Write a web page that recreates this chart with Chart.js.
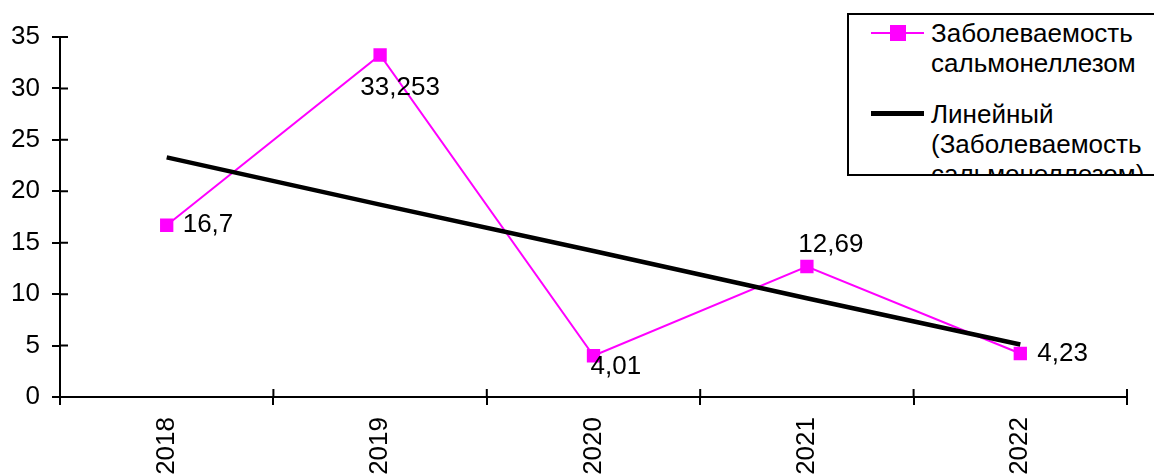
<!DOCTYPE html>
<html>
<head>
<meta charset="utf-8">
<script src="https://cdn.jsdelivr.net/npm/chart.js@4"></script>
<style>
  body { margin: 0; background: #fff; }
  #wrap { position: relative; width: 1154px; height: 475px; overflow: hidden; }
  #legend {
    position: absolute; left: 847px; top: 13px; width: 330px; height: 159px;
    border: 2px solid #000; background: #fff; overflow: hidden;
    font-family: 'Liberation Sans', Arial, sans-serif; font-size: 26px; line-height: 30px; color: #000;
  }
  .item { position: absolute; left: 82px; }
  .sample { position: absolute; left: 22px; width: 53px; }
</style>
</head>
<body>
<div id="wrap">
  <canvas id="c" width="1154" height="475"></canvas>
  <div id="legend">
    <div class="sample" style="top:17px;height:2px;background:#ff00ff"></div>
    <div class="sample" style="top:10px;left:41px;width:16px;height:16px;background:#ff00ff"></div>
    <div class="item" style="top:3px">Заболеваемость<br>сальмонеллезом</div>
    <div class="sample" style="top:96px;height:5px;background:#000"></div>
    <div class="item" style="top:84px">Линейный<br>(Заболеваемость<br>сальмонеллезом)</div>
  </div>
</div>
<script>
const years = ['2018', '2019', '2020', '2021', '2022']
const incidence = [16.7, 33.253, 4.01, 12.69, 4.23]
// trend line
const trend = [23.3, 18.7, 14.2, 9.6, 5.1]
const yTicks = [0, 5, 10, 15, 20, 25, 30, 35]

const font = { family: "'Liberation Sans', Arial, sans-serif", size: 26 }

// where each value label sits relative to its point
const labelPos = [
  { dx: 16, dy: 0, align: 'left' },
  { dx: 20, dy: 33, align: 'center' },
  { dx: -3, dy: 11, align: 'left' },
  { dx: 24, dy: -22, align: 'center' },
  { dx: 17, dy: 0, align: 'left' }
]

const valueLabels = {
  id: 'valueLabels',
  afterDatasetsDraw(chart) {
    const ctx = chart.ctx
    const meta = chart.getDatasetMeta(1)
    ctx.save()
    ctx.font = font.size + 'px ' + font.family
    ctx.fillStyle = '#000'
    ctx.textBaseline = 'middle'
    meta.data.forEach((pt, i) => {
      const p = labelPos[i]
      ctx.textAlign = p.align
      ctx.fillText(String(incidence[i]).replace('.', ','), pt.x + p.dx, pt.y + p.dy)
    })
    ctx.restore()
  }
}

// ticks in the reference cross the axis lines, add the inner half
const innerTicks = {
  id: 'innerTicks',
  afterDraw(chart) {
    const ctx = chart.ctx
    const a = chart.chartArea
    ctx.save()
    ctx.strokeStyle = '#000'
    ctx.lineWidth = 2
    ctx.beginPath()
    yTicks.forEach(v => {
      const y = chart.scales.y.getPixelForValue(v)
      ctx.moveTo(a.left, y); ctx.lineTo(a.left + 8, y)
    })
    for (let i = 0; i <= years.length; i++) {
      const x = a.left + (a.right - a.left) * i / years.length
      ctx.moveTo(x, a.bottom); ctx.lineTo(x, a.bottom - 8)
    }
    ctx.stroke()
    ctx.restore()
  }
}

new Chart(document.getElementById('c'), {
  type: 'line',
  data: {
    labels: years,
    datasets: [{
      label: 'Линейный (Заболеваемость сальмонеллезом)',
      data: trend,
      borderColor: '#000',
      borderWidth: 4.5,
      pointRadius: 0,
      tension: 0
    }, {
      label: 'Заболеваемость сальмонеллезом',
      data: incidence,
      borderColor: '#ff00ff',
      backgroundColor: '#ff00ff',
      borderWidth: 2,
      pointStyle: 'rect',
      pointRadius: 8,
      pointHoverRadius: 8,
      tension: 0
    }]
  },
  options: {
    responsive: false,
    animation: false,
    events: [],
    layout: { padding: { top: 37, right: 27, left: 0, bottom: 0 } },
    plugins: { legend: { display: false }, tooltip: { enabled: false } },
    scales: {
      y: {
        min: 0, max: 35,
        afterBuildTicks: s => { s.ticks = yTicks.map(v => ({ value: v })) },
        afterFit: s => { s.width = 60 },
        border: { color: '#000', width: 2 },
        grid: { drawOnChartArea: false, color: '#000', lineWidth: 2, tickLength: 8 },
        ticks: { color: '#000', font: font, padding: 12 }
      },
      x: {
        offset: true,
        afterFit: s => { s.height = 78 },
        border: { color: '#000', width: 2 },
        grid: { drawOnChartArea: false, color: '#000', lineWidth: 2, tickLength: 8, offset: true },
        ticks: { color: '#000', font: font, minRotation: 90, maxRotation: 90, padding: 12 }
      }
    }
  },
  plugins: [valueLabels, innerTicks]
})
</script>
</body>
</html>
